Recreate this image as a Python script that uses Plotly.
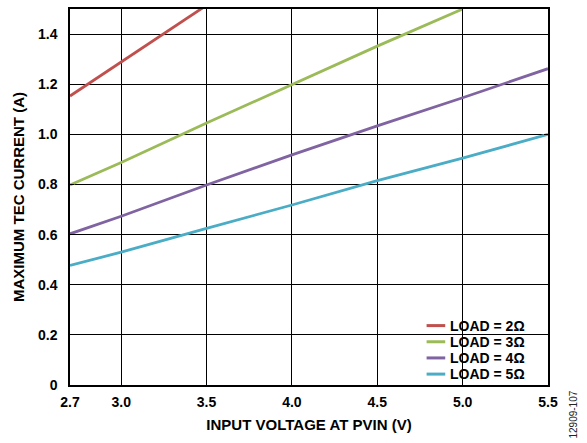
import plotly.graph_objects as go

# Data
vin = [2.7, 3.0, 3.5, 4.0, 4.5, 5.0, 5.5]
load_2ohm_x = [2.7, 3.0, 3.5]
load_2ohm = [1.153, 1.290, 1.515]
load_3ohm_x = [2.7, 3.0, 3.5, 4.0, 4.5, 5.0]
load_3ohm = [0.798, 0.888, 1.045, 1.200, 1.352, 1.500]
load_4ohm = [0.603, 0.673, 0.798, 0.918, 1.034, 1.146, 1.262]
load_5ohm = [0.477, 0.530, 0.625, 0.718, 0.815, 0.905, 1.000]

series_names = ["LOAD = 2Ω", "LOAD = 3Ω", "LOAD = 4Ω", "LOAD = 5Ω"]
colors = ["#C0504D", "#9BBB59", "#8064A2", "#4BACC6"]

x_ticks = [2.7, 3.0, 3.5, 4.0, 4.5, 5.0, 5.5]
x_ticktext = ["2.7", "3.0", "3.5", "4.0", "4.5", "5.0", "5.5"]
y_ticks = [0, 0.2, 0.4, 0.6, 0.8, 1.0, 1.2, 1.4]
y_ticktext = ["0", "0.2", "0.4", "0.6", "0.8", "1.0", "1.2", "1.4"]

FONT = "Liberation Sans, Arial, sans-serif"

fig = go.Figure()
xs = [load_2ohm_x, load_3ohm_x, vin, vin]
ys = [load_2ohm, load_3ohm, load_4ohm, load_5ohm]
for name, c, x, y in zip(series_names, colors, xs, ys):
    fig.add_trace(go.Scatter(x=x, y=y, mode="lines", name=name, showlegend=False,
                             line=dict(color=c, width=2.8)))

fig.update_layout(
    width=587, height=443,
    margin=dict(l=70, r=39, t=7, b=58),
    paper_bgcolor="white", plot_bgcolor="white",
    font=dict(family=FONT, color="black", size=14),
    showlegend=False,
    xaxis=dict(range=[2.7, 5.5], tickmode="array", tickvals=x_ticks, ticktext=x_ticktext,
               showgrid=True, gridcolor="#000000", gridwidth=1,
               showline=True, linecolor="black", linewidth=1.5, mirror="ticks",
               zeroline=False, ticks="inside", ticklen=4, tickcolor="black",
               ticklabelstandoff=3,
               tickfont=dict(family=FONT, size=14, weight="bold"),
               title=dict(text="INPUT VOLTAGE AT PVIN (V)", standoff=11,
                          font=dict(family=FONT, size=15, weight="bold"))),
    yaxis=dict(range=[0, 1.5], tickmode="array", tickvals=y_ticks, ticktext=y_ticktext,
               showgrid=True, gridcolor="#000000", gridwidth=1,
               showline=True, linecolor="black", linewidth=1.5, mirror="ticks",
               zeroline=False, ticks="inside", ticklen=4, tickcolor="black",
               ticklabelstandoff=8,
               tickfont=dict(family=FONT, size=14, weight="bold"),
               title=dict(text="MAXIMUM TEC CURRENT (A)", standoff=10,
                          font=dict(family=FONT, size=15, weight="bold"))),
)

# Legend panel (white background hiding gridlines), sample lines and labels
leg_rows = [0.158, 0.115, 0.072, 0.029]
fig.add_shape(type="rect", xref="paper", yref="paper", x0=0.736, x1=1.0, y0=0.0, y1=0.193,
              fillcolor="white", line=dict(width=0), layer="between")
for name, c, yy in zip(series_names, colors, leg_rows):
    fig.add_shape(type="line", xref="paper", yref="paper", x0=0.746, x1=0.785, y0=yy, y1=yy,
                  line=dict(color=c, width=3), layer="above")
    fig.add_annotation(text=name, xref="paper", yref="paper", x=0.793, y=yy,
                       xanchor="left", yanchor="middle", showarrow=False, borderpad=0,
                       font=dict(family=FONT, size=14, weight="bold", color="black"))

fig.add_annotation(text="12909-107", xref="paper", yref="paper",
                   x=1.054, y=-0.079, xanchor="center", yanchor="middle",
                   textangle=-90, showarrow=False,
                   font=dict(family=FONT, size=10, color="#222222"))

fig.write_html("out.html", config={"displayModeBar": False},
               post_script="document.body.style.margin='0px';")
